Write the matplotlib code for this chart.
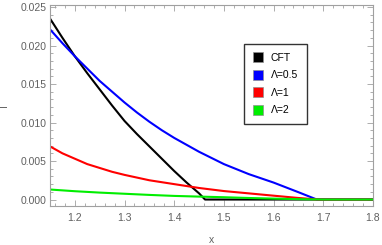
import matplotlib

matplotlib.use("Agg")
import matplotlib.pyplot as plt
from matplotlib.lines import Line2D
from matplotlib.ticker import MultipleLocator

# Values.
x_cft = [1.15, 1.175, 1.20, 1.225, 1.25, 1.275, 1.30, 1.325, 1.35, 1.375, 1.40, 1.425, 1.45,
         1.462, 1.50, 1.60, 1.70, 1.80]
i_cft = [0.0235, 0.0210, 0.0186, 0.0164, 0.0143, 0.0122, 0.0102, 0.0085, 0.0069, 0.0053, 0.0037,
         0.0022, 0.0008, 0.0, 0.0, 0.0, 0.0, 0.0]

x_l05 = [1.15, 1.175, 1.20, 1.225, 1.25, 1.275, 1.30, 1.325, 1.35, 1.375, 1.40, 1.425, 1.45,
         1.475, 1.50, 1.55, 1.60, 1.65, 1.687, 1.75, 1.80]
i_l05 = [0.0221, 0.0203, 0.0186, 0.0170, 0.0154, 0.0140, 0.0126, 0.0113, 0.0101, 0.0090, 0.0080,
         0.0071, 0.0062, 0.0054, 0.0046, 0.0033, 0.0022, 0.00095, 0.0, 0.0, 0.0]

x_l1 = [1.15, 1.175, 1.20, 1.225, 1.25, 1.275, 1.30, 1.35, 1.40, 1.45, 1.50, 1.55, 1.60, 1.65,
        1.69, 1.75, 1.80]
i_l1 = [0.0069, 0.0060, 0.0053, 0.0046, 0.0041, 0.0036, 0.0032, 0.0025, 0.0020, 0.0015, 0.0011,
        0.0008, 0.0005, 0.0002, 0.0, 0.0, 0.0]

x_l2 = [1.15, 1.20, 1.25, 1.30, 1.35, 1.40, 1.45, 1.50, 1.55, 1.60, 1.65, 1.70, 1.75, 1.80]
i_l2 = [0.0013, 0.00108, 0.0009, 0.00075, 0.0006, 0.00047, 0.00038, 0.0003, 0.0002, 0.00012,
        0.00005, 0.0, 0.0, 0.0]

labels = ["CFT", "Λ=0.5", "Λ=1", "Λ=2"]
colors = ["#000000", "#0000ff", "#ff0000", "#00ee00"]

frame_color = "#a0a0a0"
text_color = "#606060"
plt.rcParams["font.family"] = ["Liberation Sans", "DejaVu Sans"]

fig = plt.figure(figsize=(3.82, 2.45), dpi=100)
ax = fig.add_axes([50 / 382, 39 / 245, 323 / 382, 201 / 245])

series = [(x_cft, i_cft), (x_l05, i_l05), (x_l1, i_l1), (x_l2, i_l2)]
for (xs, ys), c in zip(series, colors):
    ax.plot(xs, ys, color=c, linewidth=1.5, solid_capstyle="butt", solid_joinstyle="round")

ax.set_xlim(1.15, 1.8)
ax.set_ylim(-0.00084, 0.02526)

ax.xaxis.set_major_locator(MultipleLocator(0.1))
ax.xaxis.set_minor_locator(MultipleLocator(0.02))
ax.yaxis.set_major_locator(MultipleLocator(0.005))
ax.yaxis.set_minor_locator(MultipleLocator(0.001))
ax.xaxis.set_major_formatter(lambda v, p: f"{v:.1f}")
ax.yaxis.set_major_formatter(lambda v, p: f"{v:.3f}")

ax.tick_params(which="both", direction="in", top=True, right=True, color=frame_color,
               labelcolor=text_color, labelsize=7.5, width=0.6)
ax.tick_params(which="major", length=4, pad=2.5)
ax.tick_params(axis="x", which="major", pad=5)
ax.tick_params(which="minor", length=2)
for s in ax.spines.values():
    s.set_color(frame_color)
    s.set_linewidth(0.8)

ax.set_xlabel("x", color=text_color, fontsize=7.5, labelpad=9)
ax.set_ylabel("I", color=text_color, fontsize=7.5, labelpad=8)

handles = [Line2D([], [], linestyle="none", marker="s", markersize=6.5,
                  markerfacecolor=c, markeredgecolor="#909090", markeredgewidth=0.5)
           for c in colors]
leg = fig.legend(handles, labels, loc="upper left", bbox_to_anchor=(244 / 382, 1 - 44 / 245),
                 fontsize=7.5, frameon=True, fancybox=False, handlelength=0.9,
                 handletextpad=0.8, labelspacing=0.72, borderpad=0.85, borderaxespad=0)
leg.get_frame().set_edgecolor("#000000")
leg.get_frame().set_linewidth(1.0)

fig.savefig("out.png", dpi=100)
